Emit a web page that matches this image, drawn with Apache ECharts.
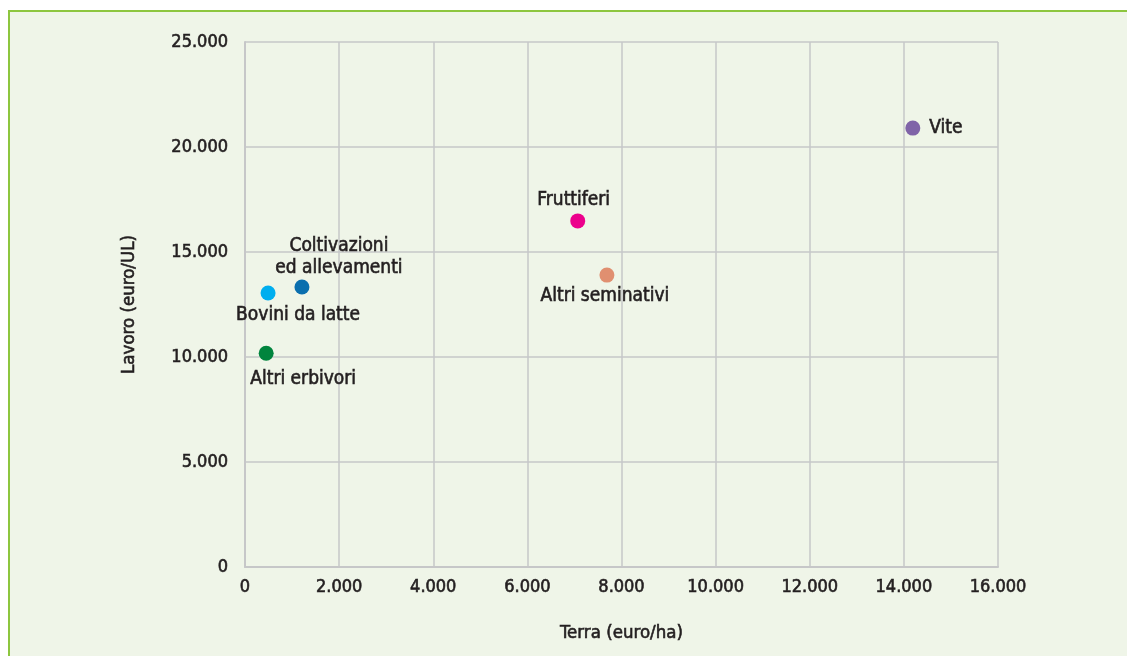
<!DOCTYPE html>
<html>
<head>
<meta charset="utf-8">
<script src="https://cdn.jsdelivr.net/npm/echarts@6/dist/echarts.min.js"></script>
<style>
    html, body {margin: 0; padding: 0; background: #ffffff;}
    #frame {position: absolute; left: 8px; top: 10px; width: 1119px; height: 646px;
        background: #eff5e8; border-top: 2px solid #8dc63f; border-left: 2px solid #8dc63f; box-sizing: border-box;}
    #chart_1 {position: absolute; left: 0; top: 0; width: 1127px; height: 656px;}
</style>
</head>
<body>
<div id="frame"></div>
<div id="chart_1"></div>
<script>
// dati: terra (euro/ha) e lavoro (euro/UL)
var names = ['Bovini da latte', 'Coltivazioni\ned allevamenti', 'Altri erbivori', 'Fruttiferi', 'Altri seminativi', 'Vite'];
var terra = [490, 1210, 450, 7070, 7690, 14190];
var lavoro = [13050, 13330, 10180, 16480, 13900, 20900];
var xTicks = [0, 2000, 4000, 6000, 8000, 10000, 12000, 14000, 16000];
var yTicks = [0, 5000, 10000, 15000, 20000, 25000];

var colors = ['#00aeef', '#0a6fae', '#00843d', '#ec008c', '#e08f70', '#8064a8'];
var labelPos = [
    {position: 'bottom', distance: 4, offset: [30, 0]},
    {position: 'top', distance: 1, offset: [37, 0]},
    {position: 'bottom', distance: 7, offset: [37, 0]},
    {position: 'top', distance: 2, offset: [-4, 0]},
    {position: 'bottom', distance: 2, offset: [-2, 0]},
    {position: 'right', distance: 9, offset: [0, 0]}
];

var font = '"DejaVu Sans Condensed", "Liberation Sans Narrow", sans-serif';
var ink = '#231f20';
// un leggero bordo per dare al testo un peso "medium"
var heavy = {color: ink, textBorderColor: ink, textBorderWidth: 0.6, fontFamily: font};

function fmt(v) {
    return String(v).replace(/\B(?=(\d{3})+(?!\d))/g, '.');
}

var myChart = echarts.init(document.getElementById('chart_1'));
var option = {
    backgroundColor: 'transparent',
    animation: false,
    textStyle: {fontFamily: font},
    grid: {left: 245, right: 129, top: 42, bottom: 89},
    xAxis: {
        type: 'value',
        min: xTicks[0],
        max: xTicks[xTicks.length - 1],
        interval: 2000,
        name: 'Terra (euro/ha)',
        nameLocation: 'middle',
        nameGap: 57,
        nameTextStyle: Object.assign({fontSize: 18.5}, heavy),
        axisLine: {show: true, lineStyle: {color: '#c6c7c8', width: 2}},
        axisTick: {show: false},
        axisLabel: Object.assign({fontSize: 18, margin: 11, formatter: fmt}, heavy),
        splitLine: {show: true, lineStyle: {color: '#c6c7c8', width: 1.5}}
    },
    yAxis: {
        type: 'value',
        min: yTicks[0],
        max: yTicks[yTicks.length - 1],
        interval: 5000,
        name: 'Lavoro (euro/UL)',
        nameLocation: 'middle',
        nameGap: 106,
        nameTextStyle: Object.assign({fontSize: 18.5}, heavy),
        axisLine: {show: true, lineStyle: {color: '#c6c7c8', width: 2}},
        axisTick: {show: false},
        axisLabel: Object.assign({fontSize: 18, margin: 17, formatter: fmt}, heavy),
        splitLine: {show: true, lineStyle: {color: '#c6c7c8', width: 1.5}}
    },
    series: [
        {
            type: 'scatter',
            symbolSize: 15,
            data: names.map(function (n, i) {
                return {
                    name: n,
                    value: [terra[i], lavoro[i]],
                    itemStyle: {color: colors[i], opacity: 1},
                    label: Object.assign({
                        show: true,
                        formatter: '{b}',
                        position: labelPos[i].position,
                        distance: labelPos[i].distance,
                        offset: labelPos[i].offset,
                        fontSize: 19,
                        lineHeight: 22
                    }, heavy)
                };
            })
        }
    ]
};

myChart.setOption(option);
</script>
</body>
</html>
